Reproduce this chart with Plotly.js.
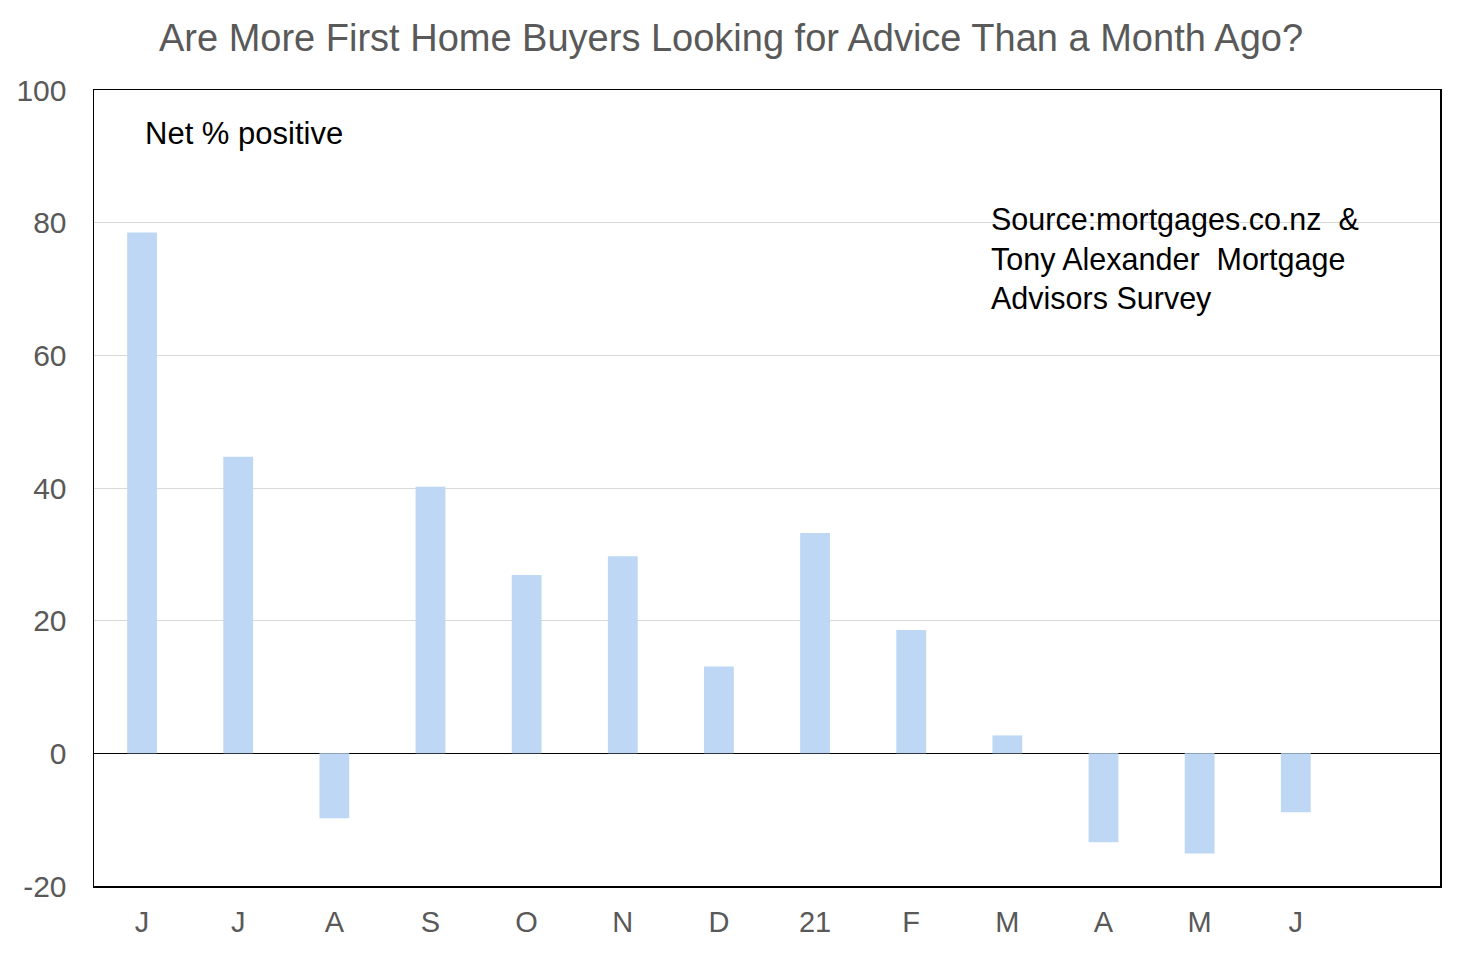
<!DOCTYPE html>
<html>
<head>
<meta charset="utf-8">
<script src="https://cdn.plot.ly/plotly-3.0.1.min.js"></script>
<style>
  html, body { margin: 0; padding: 0; background: #fff; }
  #chart { width: 1462px; height: 954px; }
</style>
</head>
<body>
<div id="chart"></div>
<script>
  // Monthly survey, Jun 2020 .. Jun 2021
  const monthLabels = ['J', 'J', 'A', 'S', 'O', 'N', 'D', '21', 'F', 'M', 'A', 'M', 'J'];
  const netPositive = [78.5, 44.7, -9.8, 40.2, 26.9, 29.7, 13.1, 33.2, 18.6, 2.7, -13.4, -15.1, -8.9];
  const monthIndex = monthLabels.map((_, i) => i);

  const yTicks = [-20, 0, 20, 40, 60, 80, 100];
  const yTickText = ['-20', '0', '20', '40', '60', '80', '100'];

  const grey = '#595959';
  const font = 'Liberation Sans, Arial, sans-serif';

  const trace = {
    type: 'bar',
    x: monthIndex,
    y: netPositive,
    width: 0.31,
    marker: { color: '#bdd7f5', line: { width: 0 } },
    hoverinfo: 'skip',
  };

  const layout = {
    width: 1462,
    height: 954,
    paper_bgcolor: '#ffffff',
    plot_bgcolor: '#ffffff',
    font: { family: font, color: grey },
    margin: { l: 94, r: 22, t: 90, b: 68 },
    showlegend: false,
    title: {
      text: 'Are More First Home Buyers Looking for Advice Than a Month Ago?',
      font: { size: 38, color: grey, family: font },
      x: 0.5,
      xanchor: 'center',
      y: 0.96,
      yanchor: 'middle',
    },
    xaxis: {
      range: [-0.5, 13.5],
      tickvals: monthIndex,
      ticktext: monthLabels,
      tickfont: { size: 29, color: grey },
      ticks: 'outside',
      ticklen: 10,
      tickcolor: 'rgba(0,0,0,0)',
      showgrid: false,
      zeroline: false,
      showline: true,
      mirror: true,
      linecolor: '#000000',
      linewidth: 1.5,
      fixedrange: true,
    },
    yaxis: {
      range: [-20, 100],
      tickvals: yTicks,
      ticktext: yTickText,
      tickfont: { size: 30, color: grey },
      ticks: 'outside',
      ticklen: 20,
      tickcolor: 'rgba(0,0,0,0)',
      showgrid: true,
      gridcolor: '#d9d9d9',
      gridwidth: 1,
      zeroline: true,
      zerolinecolor: '#000000',
      zerolinewidth: 1.5,
      showline: true,
      mirror: true,
      linecolor: '#000000',
      linewidth: 1.5,
      fixedrange: true,
    },
    annotations: [
      {
        text: 'Net % positive',
        xref: 'paper', yref: 'paper',
        x: 0.0364, y: 0.945,
        xanchor: 'left', yanchor: 'middle',
        showarrow: false,
        font: { size: 31, color: '#000000', family: font },
      },
      {
        text: 'Source:mortgages.co.nz  &amp;<br>Tony Alexander  Mortgage<br>Advisors Survey',
        xref: 'paper', yref: 'paper',
        x: 0.665, y: 0.862,
        xanchor: 'left', yanchor: 'top',
        align: 'left',
        showarrow: false,
        font: { size: 30.5, color: '#000000', family: font },
      },
    ],
  };

  Plotly.newPlot('chart', [trace], layout, { displayModeBar: false, staticPlot: true });
</script>
</body>
</html>
